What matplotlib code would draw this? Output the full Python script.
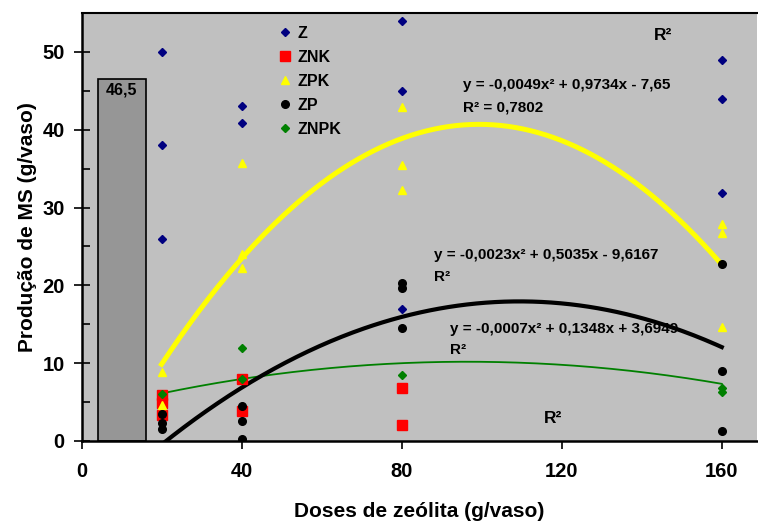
import numpy as np
import matplotlib
matplotlib.use("Agg")
import matplotlib.pyplot as plt

plt.rcParams['font.family'] = ['Liberation Sans', 'DejaVu Sans']
plt.rcParams['font.weight'] = 'bold'

# ---- data ----
z_x = [20, 20, 20, 40, 40, 80, 80, 80, 160, 160, 160]
z_y = [50, 38, 26, 43, 40.9, 54, 45, 17, 48.9, 43.9, 31.9]

znk_x = [20, 20, 20, 40, 40, 80, 80]
znk_y = [5.9, 4.9, 3.3, 8.0, 3.8, 6.8, 2.0]

zpk_x = [20, 20, 40, 40, 40, 80, 80, 80, 160, 160, 160]
zpk_y = [8.9, 4.6, 35.7, 24.0, 22.2, 42.9, 35.5, 32.3, 27.9, 26.7, 14.7]

zp_x = [20, 20, 20, 40, 40, 40, 80, 80, 80, 160, 160, 160]
zp_y = [3.5, 2.35, 1.5, 4.5, 2.6, 0.3, 20.3, 19.6, 14.5, 22.7, 9.0, 1.3]

znpk_x = [20, 40, 40, 80, 160, 160]
znpk_y = [6.0, 11.9, 8.0, 8.5, 6.8, 6.3]

# trendline coefficients (as printed on the chart)
zpk_coef = [-0.0049, 0.9734, -7.65]
zp_coef = [-0.0023, 0.5035, -9.6167]
znpk_coef = [-0.0007, 0.1348, 3.6949]
trend_range = [20, 160]

bar_x = [10]
bar_h = [46.5]
bar_label = ["46,5"]

xticks = [0, 40, 80, 120, 160]
yticks = [0, 10, 20, 30, 40, 50]

# ---- figure ----
fig = plt.figure(figsize=(7.58, 5.22), dpi=100)
ax = fig.add_axes([81.5/758, 1 - 441/522, (757 - 81.5)/758, (441 - 13)/522])
ax.set_facecolor('#C0C0C0')
ax.set_xlim(0, 168.8)
ax.set_ylim(0, 55)

# bar
bars = ax.bar(bar_x, bar_h, width=12, color='#969696', edgecolor='black', linewidth=1.2, zorder=2)
for b, lab in zip(bars, bar_label):
    ax.text(b.get_x() + b.get_width()/2, b.get_height() - 1.4, lab, ha='center', va='center',
            fontsize=11.5, fontweight='bold', zorder=3)

# trendlines
xs = np.linspace(trend_range[0], trend_range[1], 300)
ax.plot(xs, np.polyval(znpk_coef, xs), color='#008000', lw=1.3, zorder=3)

# equation texts (under the black curve)
ax.text(92.1, 14.4, "y = -0,0007x² + 0,1348x + 3,6949", fontsize=11, fontweight='bold', va='center', zorder=3.5)
ax.text(92.1, 11.7, "R²", fontsize=11, fontweight='bold', va='center', zorder=3.5)

ax.plot(xs, np.polyval(zpk_coef, xs), color='#FFFF00', lw=3.6, zorder=4)
ax.plot(xs, np.polyval(zp_coef, xs), color='black', lw=3.0, zorder=4)

ax.text(95.4, 45.7, "y = -0,0049x² + 0,9734x - 7,65", fontsize=11, fontweight='bold', va='center', zorder=5)
ax.text(95.4, 42.9, "R² = 0,7802", fontsize=11, fontweight='bold', va='center', zorder=5)
ax.text(88.0, 23.9, "y = -0,0023x² + 0,5035x - 9,6167", fontsize=11, fontweight='bold', va='center', zorder=5)
ax.text(88.0, 21.1, "R²", fontsize=11, fontweight='bold', va='center', zorder=5)
ax.text(143.0, 52.1, "R²", fontsize=12.5, fontweight='bold', va='center', zorder=5)
ax.text(115.6, 2.95, "R²", fontsize=12.5, fontweight='bold', va='center', zorder=5)

# scatter series
ax.plot(z_x, z_y, linestyle='none', marker='D', ms=4.2, color='#000080', label='Z', zorder=6)
ax.plot(znk_x, znk_y, linestyle='none', marker='s', ms=6.5, color='#FF0000', label='ZNK', zorder=6)
ax.plot(zpk_x, zpk_y, linestyle='none', marker='^', ms=6, color='#FFFF00', label='ZPK', zorder=6)
ax.plot(zp_x, zp_y, linestyle='none', marker='o', ms=5.5, color='black', label='ZP', zorder=6)
ax.plot(znpk_x, znpk_y, linestyle='none', marker='D', ms=4.2, color='#008000', label='ZNPK', zorder=6)

leg = ax.legend(loc='upper left', bbox_to_anchor=((271 - 81.5)/675.5, (441 - 18)/428),
                frameon=False, borderpad=0, handlelength=0.8, handletextpad=0.35,
                labelspacing=0.56, prop={'weight': 'bold', 'size': 11.5})

# axes styling
ax.set_xticks(xticks)
ax.set_yticks(yticks)
ax.set_yticks(np.arange(5, 55, 10), minor=True)
ax.tick_params(axis='x', direction='out', length=6, width=1.2, pad=9, labelsize=14.5)
ax.tick_params(axis='y', which='major', direction='inout', length=12, width=1.2, pad=6, labelsize=14.5)
ax.tick_params(axis='y', which='minor', direction='in', length=6, width=1.2)
for lab in ax.get_xticklabels() + ax.get_yticklabels():
    lab.set_fontweight('bold')

ax.spines['left'].set_linewidth(1.8)
ax.spines['bottom'].set_linewidth(1.8)
ax.spines['top'].set_linewidth(1.5)
ax.spines['right'].set_visible(False)

ax.set_xlabel("Doses de zeólita (g/vaso)", fontsize=15, fontweight='bold', labelpad=15)
ax.set_ylabel("Produção de MS (g/vaso)", fontsize=15, fontweight='bold', labelpad=4)

fig.savefig("out.png", dpi=100)
